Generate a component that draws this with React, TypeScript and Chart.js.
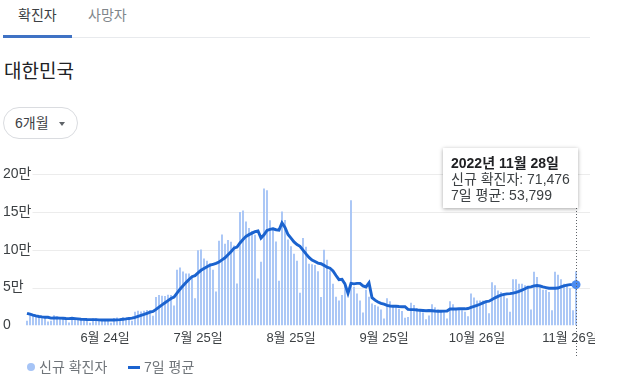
import React, { useEffect, useRef } from "react";
import { Chart, registerables } from "chart.js";

Chart.register(...registerables);

// ---- data (2022-05-29 .. 2022-11-28, one value per day) ----
const startYear = 2022;
const startMonth = 5; // May
const startDay = 29;
const dayCount = 184;

const newCases: number[] = [
  // May 29-31
  6141, 13358, 12542,
  // Jun
  12047, 12000, 9835, 9830, 5022, 6171, 13358, 12165, 10681, 9290,
  7382, 3828, 9434, 10006, 9311, 7995, 7198, 6068, 3530, 9305,
  9591, 7497, 7224, 6242, 6246, 3423, 9896, 10463, 9528, 10715,
  // Jul
  10059, 10000, 6253, 18147, 19371, 18511, 19323, 20286, 20410, 12693,
  37360, 40266, 39196, 38882, 40342, 40059, 26299, 73582, 76402, 71170,
  68632, 68551, 65433, 35883, 99327, 100285, 88384, 85320, 82002, 73589, 44689,
  // Aug
  111789, 119922, 107894, 112901, 110666, 105507, 55292, 149897, 151792, 137241,
  128714, 124592, 119603, 62078, 84128, 180803, 178574, 138812, 129411, 110700,
  59046, 150320, 139339, 113371, 104604, 94615, 85540, 43128, 115304, 103961, 81573,
  // Sep
  80911, 79719, 71473, 37597, 99837, 86852, 72620, 55000, 38000, 33000,
  40000, 57000, 0, 165393, 51000, 42000, 33000, 17000, 47000, 38000,
  29000, 27000, 25000, 21000, 9000, 36000, 32000, 27000, 27000, 22000,
  // Oct
  19000, 10000, 11000, 30000, 27000, 23000, 20000, 17000, 8000, 13000,
  28000, 24000, 21000, 20000, 18000, 9000, 32000, 28000, 23000, 23000,
  20000, 18000, 12000, 42000, 37000, 33000, 33000, 33000, 30000, 16000, 57000,
  // Nov
  53000, 46000, 44000, 40000, 36000, 18000, 61000, 61000, 55000, 55000,
  53000, 50000, 21000, 71000, 64000, 50000, 47000, 47000, 44000, 20000,
  71000, 67000, 61000, 55000, 53000, 49000, 20000, 71476,
];

const avg7: number[] = [
  // May 29-31
  16000, 14800, 13500,
  // Jun
  12500, 11800, 11200, 10800, 10700, 9600, 9800, 9800, 9600, 9500,
  9200, 9000, 9400, 9000, 8600, 8200, 7900, 7700, 7600, 7600,
  7600, 7300, 7200, 7100, 7100, 7100, 7200, 7300, 7600, 8100,
  // Jul
  8600, 9200, 9600, 10700, 12000, 13300, 14500, 16000, 17500, 18400,
  21100, 24100, 27100, 29900, 32700, 35500, 37500, 42700, 47800, 52400,
  56600, 60700, 64300, 65700, 69300, 72800, 75200, 77600, 79500, 80700, 81900,
  // Aug
  83700, 86500, 89300, 93300, 97400, 101900, 103400, 108900, 113400, 117600,
  119900, 121900, 123900, 124800, 115400, 119600, 125500, 126900, 127600, 126400,
  125900, 135400, 129500, 120100, 115300, 110300, 106700, 104400, 99400, 94400, 89800,
  // Sep
  86400, 84300, 82300, 81500, 79300, 76900, 75600, 71900, 65900, 60400,
  60800, 54600, 42200, 55500, 54900, 55500, 55500, 52200, 50800, 56200,
  36700, 33300, 30900, 29100, 28000, 26400, 25600, 25300, 25300, 24900,
  // Oct
  24600, 24700, 21100, 20900, 20900, 20300, 20000, 19700, 19400, 19700,
  19400, 19000, 18700, 18700, 18900, 19000, 21700, 21700, 21600, 21900,
  21900, 21900, 22300, 23700, 25000, 26400, 27900, 29700, 31400, 32000, 34100,
  // Nov
  36400, 38300, 39900, 40900, 41700, 42000, 42600, 43700, 45000, 46600,
  48400, 50400, 50900, 52300, 52700, 52000, 50900, 50000, 49100, 49000,
  49000, 49400, 51000, 52300, 53100, 53900, 53900, 53799,
];

const tickLabels: string[] = ["6월 24일", "7월 25일", "8월 25일", "9월 25일", "10월 26일", "11월 26일"];
const yTicks: number[] = [0, 50000, 100000, 150000, 200000];

const dateParts: { y: number; m: number; d: number }[] = [];
{
  const dt = new Date(startYear, startMonth - 1, startDay);
  for (let i = 0; i < dayCount; i++) {
    dateParts.push({ y: dt.getFullYear(), m: dt.getMonth() + 1, d: dt.getDate() });
    dt.setDate(dt.getDate() + 1);
  }
}
const categories: string[] = dateParts.map((p) => `${p.m}월 ${p.d}일`);

const FONT = "'Liberation Sans', Arial, 'Noto Sans CJK KR', sans-serif";
const BAR = "#a6c4f6";
const LINE = "#1b63cf";
const DOT = "#4d8cf0";

// horizontal grid lines that start after the y labels and run past the last bar
const gridPlugin = {
  id: "softGrid",
  beforeDatasetsDraw(chart: any) {
    const y = chart.scales.y;
    const ctx = chart.ctx;
    ctx.save();
    ctx.strokeStyle = "#ececec";
    ctx.lineWidth = 1;
    for (const v of yTicks) {
      if (v === 0) continue;
      const py = Math.round(y.getPixelForValue(v)) + 0.5;
      ctx.beginPath();
      ctx.moveTo(chart.chartArea.left + 7, py);
      ctx.lineTo(chart.width - 5, py);
      ctx.stroke();
    }
    ctx.restore();
  },
};

const cursorPlugin = {
  id: "cursorLine",
  afterDatasetsDraw(chart: any) {
    const last = dayCount - 1;
    const x = chart.scales.x.getPixelForValue(last);
    const ctx = chart.ctx;
    ctx.save();
    ctx.strokeStyle = "#5f6368";
    ctx.lineWidth = 1;
    ctx.setLineDash([1, 2]);
    ctx.beginPath();
    ctx.moveTo(Math.round(x) + 0.5, chart.chartArea.top + 31);
    ctx.lineTo(Math.round(x) + 0.5, chart.height - 4);
    ctx.stroke();
    ctx.restore();
  },
};

function CovidChart() {
  const ref = useRef<HTMLCanvasElement | null>(null);
  useEffect(() => {
    if (!ref.current) return;
    const last = dayCount - 1;
    const chart = new Chart(ref.current, {
      type: "bar",
      data: {
        labels: categories,
        datasets: [
          {
            type: "line",
            label: "7일 평균",
            data: avg7,
            borderColor: LINE,
            borderWidth: 2.9,
            tension: 0,
            pointRadius: (c: any) => (c.dataIndex === last ? 4.5 : 0),
            pointBackgroundColor: DOT,
            pointBorderWidth: 0,
            order: 0,
          } as any,
          {
            type: "bar",
            label: "신규 확진자",
            data: newCases,
            backgroundColor: BAR,
            barPercentage: 0.62,
            categoryPercentage: 1,
            order: 1,
          } as any,
        ],
      },
      options: {
        animation: false,
        responsive: false,
        devicePixelRatio: 1,
        layout: { padding: { left: 3, right: 17.5, top: 24, bottom: 0 } },
        plugins: { legend: { display: false }, tooltip: { enabled: false } },
        scales: {
          x: {
            type: "category",
            grid: { display: false, drawTicks: false },
            border: { display: false },
            ticks: {
              autoSkip: false,
              maxRotation: 0,
              minRotation: 0,
              padding: 5,
              color: "#3c4043",
              font: { family: FONT, size: 13 },
              callback: function (this: any, v: any) {
                const lab = this.getLabelForValue(v);
                return tickLabels.includes(lab) ? lab : "";
              },
            },
            afterFit: (s: any) => {
              s.height = 34.6;
            },
          },
          y: {
            min: 0,
            max: 200000,
            grid: { display: false, drawTicks: false },
            border: { display: false },
            afterBuildTicks: (s: any) => {
              s.ticks = yTicks.map((v) => ({ value: v }));
            },
            ticks: {
              mirror: true,
              padding: -22.5,
              color: "#3c4043",
              font: { family: FONT, size: 14 },
              callback: (v: any) => (v === 0 ? "0" : `${v / 10000}만`),
            },
            afterFit: (s: any) => {
              s.width = 22.5;
            },
          },
        },
      } as any,
      plugins: [gridPlugin, cursorPlugin],
    });
    return () => chart.destroy();
  }, []);
  return <canvas ref={ref} width={595} height={210} style={{ position: "absolute", left: 0, top: 150, width: 595, height: 210 }} />;
}

export default function App() {
  const last = dayCount - 1;
  const lp = dateParts[last];
  const txt: React.CSSProperties = { position: "absolute", whiteSpace: "nowrap", fontFamily: FONT };
  return (
    <div style={{ position: "absolute", left: 0, top: 0, width: 625, height: 379, background: "#fff", overflow: "hidden", fontFamily: FONT }}>
      {/* tabs */}
      <div style={{ ...txt, left: 18, top: 6, fontSize: 14, color: "#3c4043", lineHeight: "18px" }}>확진자</div>
      <div style={{ ...txt, left: 88, top: 6, fontSize: 14, color: "#80868b", lineHeight: "18px" }}>사망자</div>
      <div style={{ position: "absolute", left: 3, top: 37, width: 587, height: 1, background: "#e8eaed" }} />
      <div style={{ position: "absolute", left: 3, top: 35, width: 69, height: 3, background: "#3f72c4" }} />
      {/* title */}
      <div style={{ ...txt, left: 4, top: 60, fontSize: 19, color: "#202124", lineHeight: "24px" }}>대한민국</div>
      {/* period button */}
      <div style={{ position: "absolute", left: 3, top: 107, width: 73, height: 30, border: "1px solid #dadce0", borderRadius: 16, boxSizing: "content-box" }}>
        <div style={{ ...txt, left: 11, top: 7, fontSize: 14, color: "#3c4043", lineHeight: "17px" }}>6개월</div>
        <div style={{ position: "absolute", left: 55, top: 14, width: 0, height: 0, borderLeft: "3.5px solid transparent", borderRight: "3.5px solid transparent", borderTop: "4px solid #5f6368" }} />
      </div>
      <CovidChart />
      {/* tooltip */}
      <div style={{ position: "absolute", left: 443, top: 148, padding: "7px 8px 5px 8px", background: "#fff", boxShadow: "0 1px 4px rgba(0,0,0,0.35)", fontFamily: FONT, fontSize: 14, lineHeight: "16px", color: "#3c4043", whiteSpace: "nowrap" }}>
        <div style={{ fontWeight: "bold", color: "#202124" }}>{`${lp.y}년 ${lp.m}월 ${lp.d}일`}</div>
        <div>{`신규 확진자: ${newCases[last].toLocaleString("en-US")}`}</div>
        <div>{`7일 평균: ${avg7[last].toLocaleString("en-US")}`}</div>
      </div>
      {/* legend */}
      <div style={{ position: "absolute", left: 27, top: 363, width: 8, height: 8, borderRadius: 4, background: BAR }} />
      <div style={{ ...txt, left: 39, top: 358, fontSize: 14, color: "#70757a", lineHeight: "18px" }}>신규 확진자</div>
      <div style={{ position: "absolute", left: 128, top: 366, width: 12, height: 3, background: LINE }} />
      <div style={{ ...txt, left: 144, top: 358, fontSize: 14, color: "#70757a", lineHeight: "18px" }}>7일 평균</div>
    </div>
  );
}
